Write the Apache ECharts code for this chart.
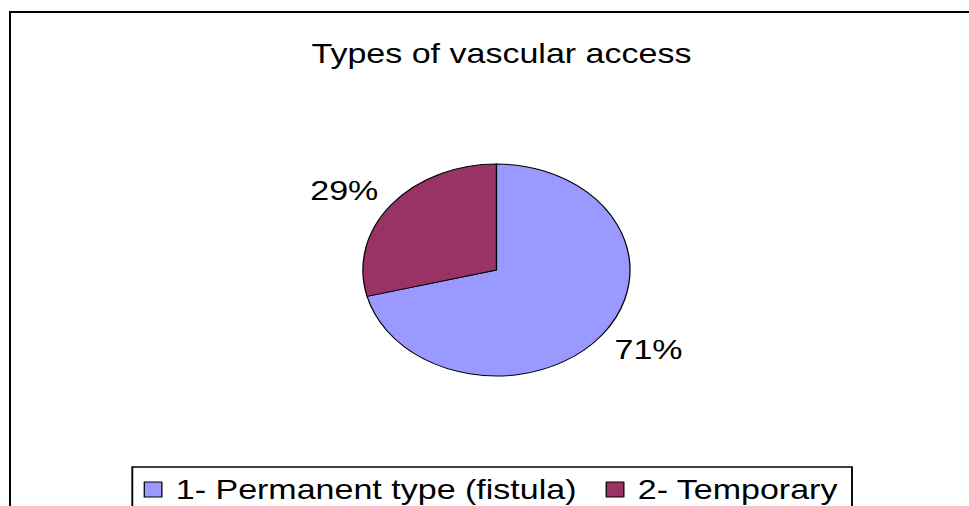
<!DOCTYPE html>
<html>
<head>
<meta charset="utf-8">
<script src="https://cdn.jsdelivr.net/npm/echarts@6/dist/echarts.min.js"></script>
<style>
    html, body { margin: 0; padding: 0; background: #fff; overflow: hidden; width: 969px; height: 506px; }
    #frame { position: absolute; left: 9px; top: 11px; width: 1000px; height: 600px; border: 2px solid #000; }
    /* the original picture is stretched sideways, so the chart is drawn narrower and scaled */
    #main { position: absolute; left: 0; top: 0; width: 769px; height: 506px; transform: scaleX(1.26); transform-origin: 0 0; }
</style>
</head>
<body>
<div id="frame"></div>
<div id="main"></div>
<script>
    const categories = ['1- Permanent type (fistula)', '2- Temporary'];
    const values = [71, 29];
    const colors = ['#9999FF', '#993366'];

    var chartDom = document.getElementById('main');
    var myChart = echarts.init(chartDom, null, { renderer: 'svg' });
    var font = 'Liberation Sans, Arial, sans-serif';

    var option = {
        animation: false,
        color: colors,
        title: {
            text: 'Types of vascular access',
            left: 393,
            textAlign: 'center',
            top: 35,
            textStyle: { fontFamily: font, fontSize: 27, fontWeight: 'normal', color: '#000' }
        },
        legend: {
            data: categories,
            left: 105,
            top: 467,
            padding: [9, 11, 30, 9],
            borderColor: '#000',
            borderWidth: 1.5,
            itemGap: 23,
            itemWidth: 14,
            itemHeight: 15,
            icon: 'rect',
            itemStyle: { borderColor: '#000', borderWidth: 1 },
            textStyle: { fontFamily: font, fontSize: 27, color: '#000', padding: [0, 0, 0, 6] }
        },
        series: [
            {
                name: 'Types of vascular access',
                type: 'pie',
                center: [394, 270],
                radius: 106,
                startAngle: 90,
                clockwise: true,
                avoidLabelOverlap: false,
                itemStyle: { borderColor: '#000', borderWidth: 1 },
                label: {
                    show: true,
                    position: 'outside',
                    formatter: '{c}%',
                    distanceToLabelLine: -9,
                    fontFamily: font,
                    fontSize: 27,
                    color: '#000'
                },
                labelLine: { show: false, length: 24, length2: 0 },
                emphasis: { disabled: true },
                data: categories.map(function (name, i) {
                    return { name: name, value: values[i] };
                })
            }
        ]
    };

    option && myChart.setOption(option);
</script>
</body>
</html>
